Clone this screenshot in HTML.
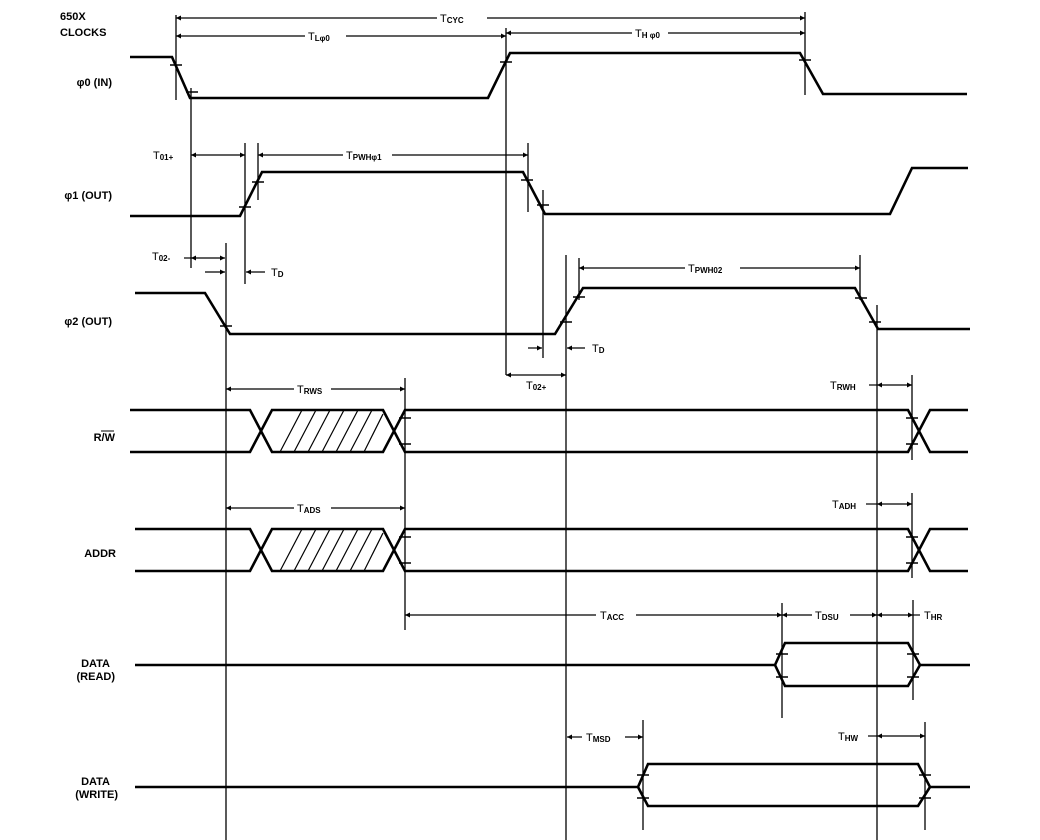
<!DOCTYPE html>
<html><head><meta charset="utf-8"><style>
html,body{margin:0;padding:0;background:#fff;}
svg{display:block;}
text{font-family:"Liberation Sans",sans-serif;fill:#000;}
.lb{font-size:11px;font-weight:bold;}
.t{font-size:11px;}
.s{font-size:8px;font-weight:bold;}
</style></head><body>
<svg width="1040" height="840" viewBox="0 0 1040 840" xmlns="http://www.w3.org/2000/svg">
<defs>
<marker id="a" viewBox="0 0 10 10" refX="10" refY="5" markerWidth="7" markerHeight="5" orient="auto-start-reverse" markerUnits="userSpaceOnUse"><path d="M0,0L10,5L0,10z" fill="#000"/></marker>
</defs>
<!-- left labels -->
<text class="lb" x="60" y="20">650X</text>
<text class="lb" x="60" y="36">CLOCKS</text>
<text class="lb" x="112" y="86" text-anchor="end">φ0 (IN)</text>
<text class="lb" x="112" y="199" text-anchor="end">φ1 (OUT)</text>
<text class="lb" x="112" y="325" text-anchor="end">φ2 (OUT)</text>
<text class="lb" x="115" y="441" text-anchor="end">R/W</text><line x1="101" y1="431" x2="114" y2="431" stroke="#000" stroke-width="1"/>
<text class="lb" x="116" y="557" text-anchor="end">ADDR</text>
<text class="lb" x="110" y="667" text-anchor="end">DATA</text>
<text class="lb" x="115" y="680" text-anchor="end">(READ)</text>
<text class="lb" x="110" y="785" text-anchor="end">DATA</text>
<text class="lb" x="118" y="798" text-anchor="end">(WRITE)</text>

<g fill="none" stroke="#000" stroke-width="2.6" stroke-linejoin="miter">
<!-- phi0 -->
<polyline points="130,57 172,57 190,98 488,98 510,53 800,53 823,94 967,94"/>
<!-- phi1 -->
<polyline points="130,216 240,216 262,172 523,172 545,214 890,214 912,168 968,168"/>
<!-- phi2 -->
<polyline points="135,293 205,293 230,334 555,334 583,288 855,288 878,329 970,329"/>
<!-- R/W -->
<polyline points="130,410 250,410 272,452 383,452 405,410 908,410 930,452 968,452"/>
<polyline points="130,452 250,452 272,410 383,410 405,452 908,452 930,410 968,410"/>
<!-- ADDR -->
<polyline points="135,529 250,529 272,571 383,571 405,529 908,529 930,571 968,571"/>
<polyline points="135,571 250,571 272,529 383,529 405,571 908,571 930,529 968,529"/>
<!-- DATA READ -->
<polyline points="135,665 775,665 785,643 908,643 920,665 970,665"/>
<polyline points="775,665 785,686 908,686 920,665"/>
<!-- DATA WRITE -->
<polyline points="135,787 638,787 648,764 918,764 930,787 970,787"/>
<polyline points="638,787 648,806 918,806 930,787"/>
</g>
<!-- hatch -->
<g stroke="#000" stroke-width="1.2">
<line x1="280" y1="452" x2="302" y2="410"/><line x1="294" y1="452" x2="316" y2="410"/><line x1="308" y1="452" x2="330" y2="410"/><line x1="322" y1="452" x2="344" y2="410"/><line x1="336" y1="452" x2="358" y2="410"/><line x1="350" y1="452" x2="372" y2="410"/><line x1="364" y1="452" x2="383" y2="414"/>
<line x1="280" y1="571" x2="302" y2="529"/><line x1="294" y1="571" x2="316" y2="529"/><line x1="308" y1="571" x2="330" y2="529"/><line x1="322" y1="571" x2="344" y2="529"/><line x1="336" y1="571" x2="358" y2="529"/><line x1="350" y1="571" x2="372" y2="529"/><line x1="364" y1="571" x2="383" y2="533"/>
</g>
<!-- vertical reference lines -->
<g stroke="#000" stroke-width="1.3">
<line x1="176" y1="15" x2="176" y2="100"/>
<line x1="191" y1="88" x2="191" y2="268"/>
<line x1="506" y1="28" x2="506" y2="375"/>
<line x1="805" y1="12" x2="805" y2="95"/>
<line x1="245" y1="143" x2="245" y2="284"/>
<line x1="258" y1="143" x2="258" y2="200"/>
<line x1="528" y1="143" x2="528" y2="212"/>
<line x1="543" y1="190" x2="543" y2="358"/>
<line x1="226" y1="243" x2="226" y2="840"/>
<line x1="566" y1="255" x2="566" y2="840"/>
<line x1="579" y1="258" x2="579" y2="300"/>
<line x1="860" y1="255" x2="860" y2="300"/>
<line x1="877" y1="305" x2="877" y2="840"/>
<line x1="405" y1="378" x2="405" y2="630"/>
<line x1="912" y1="375" x2="912" y2="460"/>
<line x1="912" y1="493" x2="912" y2="578"/>
<line x1="782" y1="603" x2="782" y2="718"/>
<line x1="913" y1="600" x2="913" y2="700"/>
<line x1="643" y1="720" x2="643" y2="830"/>
<line x1="925" y1="722" x2="925" y2="830"/>
</g>
<!-- ticks -->
<g stroke="#000" stroke-width="1.5">
<path d="M170,65h12M186,92h12M500,62h12M799,60h12M239,207h12M252,182h12M521,180h12M537,205h12M220,326h12M560,322h12M573,297h12M855,298h12M869,322h12"/>
<path d="M399,418h12M399,444h12M906,418h12M906,444h12M399,537h12M399,563h12M906,537h12M906,563h12M776,654h12M776,677h12M907,654h12M907,677h12M637,775h12M637,798h12M919,775h12M919,798h12"/>
</g>
<!-- dimension lines -->
<g stroke="#000" stroke-width="1.2" fill="none">
<line x1="176" y1="18" x2="437" y2="18" marker-start="url(#a)"/><line x1="487" y1="18" x2="805" y2="18" marker-end="url(#a)"/>
<line x1="176" y1="36" x2="305" y2="36" marker-start="url(#a)"/><line x1="346" y1="36" x2="506" y2="36" marker-end="url(#a)"/>
<line x1="506" y1="33" x2="632" y2="33" marker-start="url(#a)"/><line x1="668" y1="33" x2="805" y2="33" marker-end="url(#a)"/>
<line x1="191" y1="155" x2="245" y2="155" marker-start="url(#a)" marker-end="url(#a)"/>
<line x1="258" y1="155" x2="343" y2="155" marker-start="url(#a)"/><line x1="392" y1="155" x2="528" y2="155" marker-end="url(#a)"/>
<line x1="184" y1="258" x2="191" y2="258"/><line x1="191" y1="258" x2="225" y2="258" marker-start="url(#a)" marker-end="url(#a)"/>
<line x1="205" y1="272" x2="225" y2="272" marker-end="url(#a)"/>
<line x1="265" y1="272" x2="246" y2="272" marker-end="url(#a)"/>
<line x1="528" y1="348" x2="542" y2="348" marker-end="url(#a)"/>
<line x1="585" y1="348" x2="567" y2="348" marker-end="url(#a)"/>
<line x1="506" y1="375" x2="566" y2="375" marker-start="url(#a)" marker-end="url(#a)"/>
<line x1="579" y1="268" x2="685" y2="268" marker-start="url(#a)"/><line x1="740" y1="268" x2="860" y2="268" marker-end="url(#a)"/>
<line x1="226" y1="389" x2="294" y2="389" marker-start="url(#a)"/><line x1="331" y1="389" x2="405" y2="389" marker-end="url(#a)"/>
<line x1="226" y1="508" x2="294" y2="508" marker-start="url(#a)"/><line x1="331" y1="508" x2="405" y2="508" marker-end="url(#a)"/>
<line x1="869" y1="385" x2="877" y2="385"/><line x1="877" y1="385" x2="912" y2="385" marker-start="url(#a)" marker-end="url(#a)"/>
<line x1="866" y1="504" x2="877" y2="504"/><line x1="877" y1="504" x2="912" y2="504" marker-start="url(#a)" marker-end="url(#a)"/>
<line x1="405" y1="615" x2="596" y2="615" marker-start="url(#a)"/><line x1="636" y1="615" x2="782" y2="615" marker-end="url(#a)"/>
<line x1="782" y1="615" x2="812" y2="615" marker-start="url(#a)"/><line x1="850" y1="615" x2="877" y2="615" marker-end="url(#a)"/>
<line x1="877" y1="615" x2="913" y2="615" marker-start="url(#a)" marker-end="url(#a)"/><line x1="913" y1="615" x2="920" y2="615"/>
<line x1="567" y1="737" x2="582" y2="737" marker-start="url(#a)"/><line x1="625" y1="737" x2="643" y2="737" marker-end="url(#a)"/>
<line x1="868" y1="736" x2="877" y2="736"/><line x1="877" y1="736" x2="925" y2="736" marker-start="url(#a)" marker-end="url(#a)"/>
</g>
<!-- timing labels -->
<g class="t">
<text x="440" y="22">T<tspan class="s" dy="1">CYC</tspan></text>
<text x="308" y="40">T<tspan class="s" dy="1">Lφ0</tspan></text>
<text x="635" y="37">T<tspan class="s" dy="1">H φ0</tspan></text>
<text x="153" y="159">T<tspan class="s" dy="1">01+</tspan></text>
<text x="346" y="159">T<tspan class="s" dy="1">PWHφ1</tspan></text>
<text x="152" y="260">T<tspan class="s" dy="1">02-</tspan></text>
<text x="271" y="276">T<tspan class="s" dy="1">D</tspan></text>
<text x="592" y="352">T<tspan class="s" dy="1">D</tspan></text>
<text x="526" y="389">T<tspan class="s" dy="1">02+</tspan></text>
<text x="688" y="272">T<tspan class="s" dy="1">PWH02</tspan></text>
<text x="297" y="393">T<tspan class="s" dy="1">RWS</tspan></text>
<text x="297" y="512">T<tspan class="s" dy="1">ADS</tspan></text>
<text x="830" y="389">T<tspan class="s" dy="1">RWH</tspan></text>
<text x="832" y="508">T<tspan class="s" dy="1">ADH</tspan></text>
<text x="600" y="619">T<tspan class="s" dy="1">ACC</tspan></text>
<text x="815" y="619">T<tspan class="s" dy="1">DSU</tspan></text>
<text x="924" y="619">T<tspan class="s" dy="1">HR</tspan></text>
<text x="586" y="741">T<tspan class="s" dy="1">MSD</tspan></text>
<text x="838" y="740">T<tspan class="s" dy="1">HW</tspan></text>
</g>
</svg>
</body></html>
